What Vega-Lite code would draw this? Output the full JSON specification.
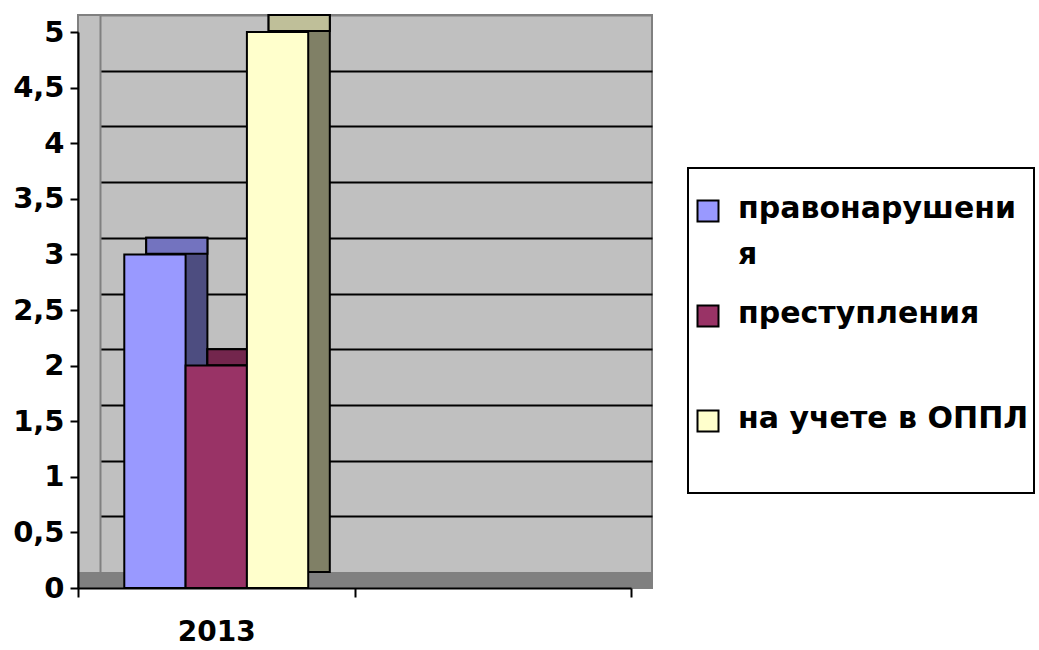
{
  "$schema": "https://vega.github.io/schema/vega-lite/v6.json",
  "width": 574,
  "height": 573,
  "autosize": {"type": "none"},
  "padding": {"left": 78, "top": 15, "right": 387, "bottom": 62},
  "background": "white",
  "config": {
    "view": {"fill": "#C0C0C0", "stroke": "#808080", "strokeWidth": 2},
    "font": "DejaVu Sans"
  },
  "data": {
    "values": [
      {"year": "2013", "series": "правонарушения", "value": 3},
      {"year": "2013", "series": "преступления", "value": 2},
      {"year": "2013", "series": "на учете в ОППЛ", "value": 5}
    ]
  },
  "layer": [
    {
      "layer": [
        {
          "mark": {"type": "rect", "color": "#808080"},
          "encoding": {
            "y": {
              "datum": 0,
              "type": "quantitative",
              "scale": {"domain": [-0.1436, 5], "nice": false, "zero": false},
              "axis": {
                "orient": "left",
                "offset": -22,
                "values": [0.5, 1, 1.5, 2, 2.5, 3, 3.5, 4, 4.5],
                "grid": true,
                "gridColor": "black",
                "gridWidth": 2,
                "gridOpacity": 1,
                "labels": false,
                "ticks": false,
                "domain": true,
                "domainColor": "#808080",
                "domainWidth": 2,
                "title": null
              }
            },
            "y2": {"datum": -0.1436}
          }
        },
        {
          "mark": {"type": "bar", "stroke": "black", "strokeWidth": 2},
          "encoding": {
            "x": {
              "field": "year",
              "type": "nominal",
              "scale": {"domain": ["2013", " "], "range": [22, 574], "paddingInner": 0, "paddingOuter": 0},
              "axis": {"orient": "top", "labels": false, "ticks": false, "grid": false, "domain": true, "domainColor": "#808080", "domainWidth": 2, "title": null}
            },
            "xOffset": {
              "field": "series",
              "type": "nominal",
              "sort": ["правонарушения", "преступления", "на учете в ОППЛ"],
              "scale": {"paddingInner": 0, "paddingOuter": 0.755}
            },
            "y": {"field": "value", "type": "quantitative", "scale": {"domain": [-0.1436, 5], "nice": false, "zero": false}},
            "y2": {"datum": 0},
            "fill": {
              "condition": [
                {"test": "datum.series === 'правонарушения'", "value": "#4D4D80"},
                {"test": "datum.series === 'преступления'", "value": "#4D1A33"}
              ],
              "value": "#808066"
            }
          }
        },
        {
          "mark": {"type": "bar", "stroke": "black", "strokeWidth": 2, "y2Offset": 16},
          "encoding": {
            "x": {
              "field": "year",
              "type": "nominal",
              "scale": {"domain": ["2013", " "], "range": [22, 574], "paddingInner": 0, "paddingOuter": 0}
            },
            "xOffset": {
              "field": "series",
              "type": "nominal",
              "sort": ["правонарушения", "преступления", "на учете в ОППЛ"],
              "scale": {"paddingInner": 0, "paddingOuter": 0.755}
            },
            "y": {"field": "value", "type": "quantitative", "scale": {"domain": [-0.1436, 5], "nice": false, "zero": false}},
            "y2": {"field": "value"},
            "fill": {
              "condition": [
                {"test": "datum.series === 'правонарушения'", "value": "#7373BF"},
                {"test": "datum.series === 'преступления'", "value": "#73264D"}
              ],
              "value": "#BFBF99"
            }
          }
        }
      ]
    },
    {
      "mark": {"type": "bar", "stroke": "black", "strokeWidth": 2},
      "encoding": {
        "x": {
          "field": "year",
          "type": "nominal",
          "scale": {"domain": ["2013", " "], "range": [0, 553], "paddingInner": 0, "paddingOuter": 0},
          "axis": {
            "orient": "bottom",
            "title": null,
            "tickBand": "extent",
            "grid": false,
            "domainColor": "black",
            "domainWidth": 2,
            "tickColor": "black",
            "tickWidth": 2,
            "tickSize": 9,
            "labelFont": "DejaVu Sans",
            "labelFontWeight": "bold",
            "labelFontSize": 28,
            "labelColor": "black",
            "labelPadding": 21,
            "labelAngle": 0,
            "zindex": 1
          }
        },
        "xOffset": {
          "field": "series",
          "type": "nominal",
          "sort": ["правонарушения", "преступления", "на учете в ОППЛ"],
          "scale": {"paddingInner": 0, "paddingOuter": 0.755}
        },
        "y": {
          "field": "value",
          "type": "quantitative",
          "scale": {"domain": [0, 5], "range": [573, 17], "nice": false, "zero": false},
          "axis": {
            "orient": "left",
            "title": null,
            "values": [0, 0.5, 1, 1.5, 2, 2.5, 3, 3.5, 4, 4.5, 5],
            "format": "~g",
            "labelExpr": "replace(datum.label, '.', ',')",
            "grid": false,
            "domainColor": "black",
            "domainWidth": 2,
            "tickColor": "black",
            "tickWidth": 2,
            "tickSize": 8,
            "labelPadding": 6,
            "labelFont": "DejaVu Sans",
            "labelFontWeight": "bold",
            "labelFontSize": 29,
            "labelColor": "black",
            "zindex": 1
          }
        },
        "color": {
          "field": "series",
          "type": "nominal",
          "scale": {
            "domain": ["правонарушения", "преступления", "на учете в ОППЛ"],
            "range": ["#9999FF", "#993366", "#FFFFCC"]
          },
          "legend": {
            "orient": "none",
            "legendX": 610,
            "legendY": 153,
            "title": null,
            "strokeColor": "black",
            "padding": 5,
            "symbolType": "square",
            "symbolSize": 441,
            "symbolStrokeColor": "black",
            "symbolStrokeWidth": 2,
            "labelFont": "DejaVu Sans",
            "labelFontWeight": "bold",
            "labelFontSize": 30,
            "labelColor": "black",
            "labelOffset": 15,
            "labelLimit": 400,
            "labelBaseline": "alphabetic",
            "rowPadding": 0,
            "clipHeight": 105,
            "labelExpr": "datum.label == 'правонарушения' ? ['правонарушени', 'я'] : datum.label",
            "encode": {
              "legend": {"update": {"strokeWidth": {"value": 2}}},
              "symbols": {"update": {"y": {"value": 38}}},
              "labels": {"update": {"y": {"value": 45}, "lineHeight": {"value": 46}}}
            }
          }
        }
      }
    }
  ],
  "resolve": {"scale": {"x": "independent", "y": "independent", "xOffset": "independent"}}
}
